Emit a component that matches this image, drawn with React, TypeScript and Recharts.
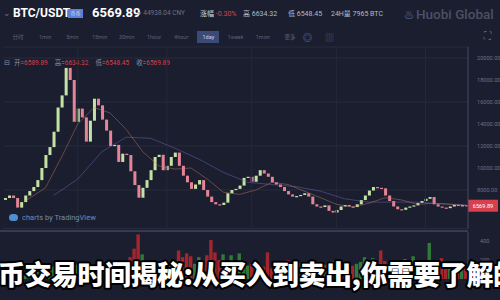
import React from 'react';
import { ComposedChart, Bar, Line, XAxis, YAxis, CartesianGrid, ReferenceLine, Cell } from 'recharts';

const closes = [
	7270, 7500, 7270, 6400, 6900, 7500, 7900, 8270, 8900, 10000,
	11180, 11900, 13300, 15500, 16600, 19100, 18000, 14200, 15400, 14600,
	12400, 14300, 16300, 15700, 14400, 13400, 12000, 12100, 10550, 11300,
	11180, 9700, 8450, 7300, 8200, 8900, 9800, 11000, 11200, 9800,
	10200, 11000, 11400, 10200, 9300, 8700, 8100, 8500, 8900, 8000,
	7400, 6900, 6700, 6640, 6850, 7700, 8000, 8100, 8400, 9100,
	9200, 8750, 9300, 9800, 9500, 9200, 8700, 8500, 8270, 7900,
	7600, 7400, 7450, 7550, 7700, 7400, 6700, 6500, 6450, 6600,
	6100, 5950, 6180, 6500, 6640, 6500, 6450, 6700, 7090, 7500,
	7950, 8270, 8200, 8150, 7500, 7000, 6500, 6250, 6200, 6400,
	6500, 6600, 6820, 7000, 7200, 7360, 6700, 6500, 6400, 6350,
	6500, 6650, 6550, 6620, 6570,
];
const firstOpen = 7100;

const volumes = [
	50, 40, 45, 80, 60, 50, 55, 70, 75, 90,
	100, 110, 130, 160, 140, 170, 190, 180, 150, 140,
	170, 130, 150, 120, 110, 140, 180, 120, 140, 110,
	150, 230, 320, 470, 260, 180, 150, 170, 140, 160,
	130, 150, 190, 300, 230, 270, 240, 160, 230, 180,
	250, 410, 280, 200, 260, 180, 250, 150, 270, 170,
	140, 160, 120, 150, 130, 280, 110, 140, 120, 100,
	200, 130, 150, 170, 120, 140, 200, 160, 180, 150,
	170, 190, 140, 130, 120, 150, 140, 160, 180, 230,
	170, 220, 180, 300, 190, 160, 200, 150, 170, 210,
	160, 240, 150, 170, 190, 380, 200, 170, 220, 150,
	140, 160, 130, 150, 120,
];

// faint moving averages, read at a few candles only
const maFastIdx = [5, 10, 14, 18, 22, 26, 30, 34, 38, 42, 46, 50, 54, 58, 62, 66, 70, 74, 78, 82, 86, 90, 94, 98, 102, 106, 110, 114];
const maFastVal = [7000, 8200, 11000, 14000, 15500, 15000, 13500, 11500, 10200, 9900, 10000, 9000, 7800, 7600, 8000, 8700, 8500, 7900, 7300, 6700, 6450, 6800, 7300, 7100, 6700, 6800, 6700, 6600];
const maSlowIdx = [12, 18, 24, 30, 36, 42, 48, 54, 60, 66, 72, 78, 84, 90, 96, 102, 108, 114];
const maSlowVal = [7500, 9000, 11500, 12800, 12700, 11800, 10800, 9600, 8700, 8500, 8300, 7900, 7200, 6900, 6900, 6900, 6750, 6650];

const priceTicks = [8000, 10000, 12000, 14000, 16000, 18000, 20000];
const volumeTicks = [200, 400];
const gridCandles = [18, 40, 61, 82, 104];
const lastPrice = 6569.89;

const intervals = ['分时', '1min', '5min', '15min', '30min', '1hour', '4hour', '1day', '1week', '1mon', '更多'];
const ohlcLabels = ['开', '高', '低', '收'];
const ohlcValues = ['6589.89', '6634.32', '6548.45', '6569.89'];
const headline = '币交易时间揭秘:从买入到卖出,你需要了解的';

const BG = '#1b1e2e';
const UP = '#c4e2a4';
const DOWN = '#e58496';
const VOL_UP = '#2f7a3a';
const VOL_DOWN = '#a3262e';
const MUTED = '#6c7189';

const data = closes.map((c, i) => {
	const o = i === 0 ? firstOpen : closes[i - 1];
	return {
		i,
		open: o,
		close: c,
		body: [Math.min(o, c), Math.max(o, c)],
		up: c >= o,
		vol: volumes[i],
		maFast: null as number | null,
		maSlow: null as number | null,
	};
});
maFastIdx.forEach((k, j) => (data[k].maFast = maFastVal[j]));
maSlowIdx.forEach((k, j) => (data[k].maSlow = maSlowVal[j]));

const Candle = (props: any) => {
	const { x, y, width, height, payload } = props;
	const h = Math.max(Math.abs(height), 1.2);
	const top = height < 0 ? y + height : y;
	return <rect x={x} y={top} width={width} height={h} fill={payload.up ? UP : DOWN} />;
};

const PriceTag = (props: any) => {
	const { viewBox } = props;
	const x = viewBox.x + viewBox.width;
	return (
		<g>
			<rect x={x} y={viewBox.y - 6} width={30} height={12} fill="#d8404c" />
			<text x={x + 15} y={viewBox.y + 2} textAnchor="middle" fontSize={5.6} fill="#fff">
				{lastPrice.toFixed(2)}
			</text>
		</g>
	);
};

const abs = (left: number, top: number, extra: React.CSSProperties = {}): React.CSSProperties => ({
	position: 'absolute',
	left,
	top,
	whiteSpace: 'nowrap',
	...extra,
});

export default function App() {
	return (
		<div
			style={{
				position: 'absolute',
				left: 0,
				top: 0,
				width: 500,
				height: 300,
				background: BG,
				overflow: 'hidden',
				fontFamily: 'Roboto, "Noto Sans CJK SC", sans-serif',
			}}
		>
			{/* header */}
			<div style={abs(3, 8, { color: MUTED, fontSize: 9 })}>⌄</div>
			<div style={abs(13, 6, { color: '#fff', fontSize: 12, fontWeight: 700 })}>BTC/USDT</div>
			<div style={abs(68, 9, { width: 15, height: 9, background: '#5d7fd6', color: '#dfe7ff', fontSize: 5, textAlign: 'center', lineHeight: '9px' })}>币币</div>
			<div style={abs(92, 5, { color: '#fff', fontSize: 13, fontWeight: 700 })}>6569.89</div>
			<div style={abs(138, 9, { color: MUTED, fontSize: 6.5 })}>≈ 44938.04 CNY</div>
			<div style={abs(200, 8, { color: '#d0d3dc', fontSize: 7 })}>
				涨幅 <span style={{ color: '#d8404c' }}>-0.30%</span>
			</div>
			<div style={abs(243, 8, { color: '#b5b9c6', fontSize: 7 })}>高 6634.32</div>
			<div style={abs(288, 8, { color: '#b5b9c6', fontSize: 7 })}>低 6548.45</div>
			<div style={abs(331, 8, { color: '#b5b9c6', fontSize: 7 })}>24H量 7965 BTC</div>
			<div style={abs(404, 6, { color: '#4b5066', fontSize: 13.5, fontWeight: 500 })}>
				<span style={{ fontSize: 10, marginRight: 2 }}>♨</span>Huobi Global
			</div>

			{/* interval bar */}
			{intervals.map((t, k) => (
				<div
					key={t}
					style={abs(7 + k * 27.2, 31, {
						width: 22,
						height: 12,
						lineHeight: '12px',
						textAlign: 'center',
						fontSize: 5.5,
						color: k === 7 ? '#c9d3f5' : '#5c6178',
						background: k === 7 ? '#3c4a78' : 'transparent',
					})}
				>
					{t}
				</div>
			))}
			<div style={abs(303, 31, { color: '#6f86c8', fontSize: 9 })}>◎</div>
			<div style={abs(325, 31, { color: '#4d5c8a', fontSize: 9 })}>▥</div>
			<div style={abs(484, 30, { color: '#6c7189', fontSize: 10 })}>⛶</div>

			{/* OHLC legend */}
			<div style={abs(4, 57, { fontSize: 6.5, color: '#8a8fa5' })}>
				<span style={{ marginRight: 4 }}>⊟</span>
				{ohlcLabels.map((l, k) => (
					<span key={l} style={{ marginRight: 7 }}>
						{l}=<span style={{ color: '#d8404c' }}>{ohlcValues[k]}</span>
					</span>
				))}
			</div>

			{/* price pane */}
			<div style={abs(0, 0)}>
				<ComposedChart width={500} height={232} data={data} margin={{ top: 47, right: 0, bottom: 3.5, left: 3 }}>
					<CartesianGrid vertical={false} stroke="#262a3d" />
					<XAxis dataKey="i" hide />
					<YAxis
						orientation="right"
						width={32}
						domain={[4500, 21000]}
						ticks={priceTicks}
						tickFormatter={(v: number) => v.toFixed(2)}
						tick={{ fontSize: 5.6, fill: MUTED }}
						axisLine={{ stroke: '#454a62' }}
						tickLine={false}
						tickMargin={3}
					/>
					{gridCandles.map((g) => (
						<ReferenceLine key={g} x={g} stroke="#24283a" />
					))}
					<Line dataKey="maSlow" connectNulls dot={false} stroke="#7668c4" strokeOpacity={0.45} strokeWidth={1} isAnimationActive={false} />
					<Line dataKey="maFast" connectNulls dot={false} stroke="#c97a66" strokeOpacity={0.45} strokeWidth={1} isAnimationActive={false} />
					<Bar dataKey="body" barSize={3} shape={<Candle />} isAnimationActive={false} />
					<ReferenceLine y={lastPrice} stroke="transparent" label={<PriceTag />} />
				</ComposedChart>
			</div>

			{/* TradingView credit */}
			<div style={abs(9, 213, { display: 'flex', alignItems: 'center', fontSize: 7.5, color: '#6f8db3' })}>
				<span style={{ display: 'inline-block', width: 9, height: 7, borderRadius: 4, background: '#4f8fd0', marginRight: 4 }} />
				charts by TradingView
			</div>

			{/* pane separator */}
			<div style={abs(0, 230, { width: 468, height: 2, background: '#363b52' })} />

			{/* volume pane */}
			<div style={abs(0, 232)}>
				<ComposedChart width={500} height={68} data={data} margin={{ top: 0, right: 0, bottom: 21, left: 3 }}>
					<XAxis dataKey="i" hide />
					<YAxis
						orientation="right"
						width={32}
						domain={[0, 495]}
						ticks={volumeTicks}
						tick={{ fontSize: 5.6, fill: MUTED }}
						axisLine={{ stroke: '#454a62' }}
						tickLine={false}
						tickMargin={6}
					/>
					<Bar dataKey="vol" barSize={3.4} isAnimationActive={false}>
						{data.map((d) => (
							<Cell key={d.i} fill={d.up ? VOL_UP : VOL_DOWN} />
						))}
					</Bar>
				</ComposedChart>
			</div>

			{/* headline overlay */}
			<svg width={500} height={300} style={abs(0, 0, { pointerEvents: 'none' })}>
				<text
					x={-2}
					y={285}
					fontSize={27}
					letterSpacing={-0.5}
					fontWeight={900}
					fontFamily='"Noto Sans CJK SC", sans-serif'
					fill="#ffffff"
					stroke="#000000"
					strokeWidth={4}
					strokeLinejoin="round"
					paintOrder="stroke"
				>
					{headline}
				</text>
			</svg>
		</div>
	);
}
